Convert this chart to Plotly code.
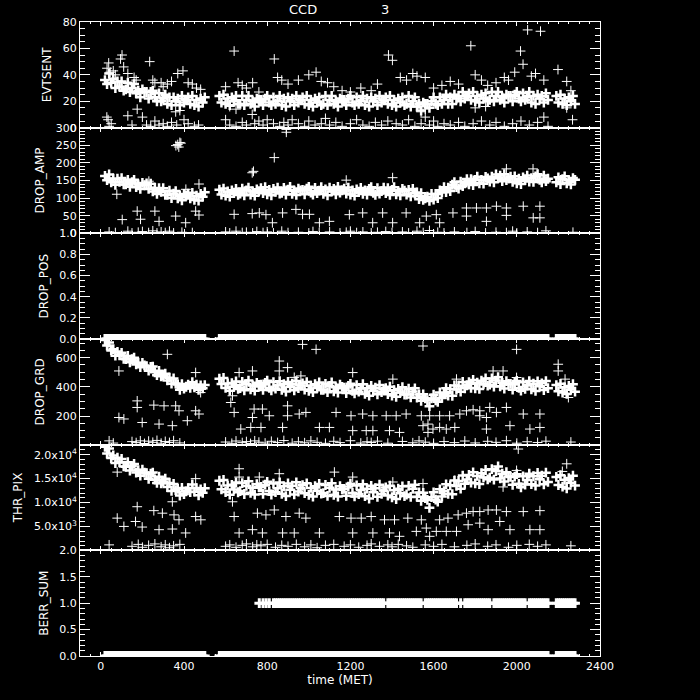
import plotly.graph_objects as go
from plotly.subplots import make_subplots

# ---------------- time grid of the dense band ----------------
t_band = list(range(20, 510, 10)) + list(range(570, 2160, 10)) + list(range(2190, 2290, 10))

# ---------------- EVTSENT ----------------
evt_band = [
    36, 33, 41, 34, 37, 30, 35, 31, 35, 28,
    29, 34, 27, 30, 33, 26, 28, 23, 29, 27,
    27, 22, 27, 28, 23, 20, 26, 20, 22, 25,
    18, 23, 17, 23, 20, 22, 17, 24, 19, 21,
    23, 18, 24, 17, 21, 16, 22, 19, 23,
    24, 19, 25, 18, 22, 17, 23, 20, 24, 18,
    18, 24, 17, 21, 24, 18, 20, 16, 22, 21,
    21, 17, 22, 24, 19, 17, 23, 18, 20, 24,
    17, 22, 16, 23, 20, 22, 17, 24, 19, 21,
    23, 18, 24, 17, 21, 16, 22, 19, 23, 17,
    18, 24, 17, 21, 24, 18, 20, 16, 22, 21,
    21, 17, 22, 24, 19, 17, 23, 18, 20, 24,
    17, 22, 16, 23, 20, 22, 17, 24, 19, 21,
    23, 18, 24, 17, 21, 16, 22, 19, 23, 17,
    18, 24, 16, 20, 23, 16, 18, 13, 19, 18,
    18, 15, 20, 23, 18, 17, 23, 18, 21, 25,
    18, 23, 18, 25, 22, 24, 20, 27, 22, 24,
    26, 21, 27, 20, 24, 19, 25, 22, 26, 20,
    21, 27, 20, 24, 27, 21, 23, 19, 25, 24,
    24, 20, 25, 27, 22, 20, 26, 21, 23, 27,
    19, 24, 18, 25, 22, 24, 19, 26, 21,
    24, 19, 25, 18, 22, 17, 23, 20, 24, 18,
]
evt_out = [
    (30, 45), (38, 49), (45, 42), (60, 43), (70, 40), (95, 52), (102, 55), (110, 46), (130, 41),
    (160, 38), (170, 36), (235, 50), (250, 36), (260, 34), (290, 34), (300, 31), (320, 33),
    (340, 35), (370, 41), (395, 43), (420, 34), (440, 33), (460, 30), (480, 29),
    (600, 31), (641, 58), (660, 34), (680, 32), (700, 30), (730, 34), (760, 27), (834, 52),
    (850, 38), (870, 36), (900, 33), (950, 36), (1000, 40), (1035, 42), (1060, 35), (1090, 34),
    (1120, 31), (1160, 28), (1200, 27), (1250, 30), (1300, 28), (1330, 33), (1383, 55),
    (1402, 51), (1440, 38), (1470, 36), (1500, 41), (1520, 39), (1560, 38), (1600, 30),
    (1640, 32), (1680, 35), (1720, 33), (1779, 62), (1800, 40), (1830, 36), (1860, 32),
    (1900, 34), (1940, 38), (1960, 36), (1990, 42), (2018, 58), (2030, 48), (2052, 74),
    (2070, 39), (2090, 41), (2114, 73), (2130, 36), (2198, 44), (2240, 35), (2260, 28),
    (1540, 12), (1560, 14), (1800, 15), (1850, 16), (620, 16), (650, 14), (2240, 15),
    (29, 8), (35, 6), (40, 1), (50, 3), (130, 9), (150, 2), (175, 14), (200, 8), (220, 2),
    (240, 1), (260, 5), (280, 2), (300, 3), (320, 1), (340, 4), (360, 12), (365, 2), (380, 13),
    (400, 6), (420, 3), (450, 1), (470, 2), (600, 6), (620, 2), (650, 1), (680, 4), (700, 2),
    (728, 10), (740, 3), (760, 5), (780, 2), (800, 6), (830, 3), (860, 1), (880, 4), (900, 2),
    (920, 6), (950, 3), (980, 1), (1000, 5), (1030, 2), (1060, 3), (1080, 7), (1100, 2),
    (1130, 4), (1160, 1), (1200, 3), (1230, 6), (1260, 2), (1290, 1), (1320, 4), (1350, 2),
    (1380, 5), (1420, 3), (1450, 2), (1480, 6), (1510, 1), (1540, 3), (1560, 8), (1580, 2),
    (1600, 5), (1620, 1), (1650, 3), (1680, 2), (1720, 4), (1750, 1), (1790, 3), (1830, 5),
    (1870, 2), (1900, 4), (1940, 1), (1980, 3), (2020, 5), (2060, 2), (2100, 4), (2130, 8),
    (2150, 1), (2268, 6),
]

# ---------------- DROP_AMP ----------------
amp_band = [
    163, 151, 167, 145, 155, 138, 155, 146, 157, 139,
    139, 152, 132, 145, 152, 131, 139, 126, 143, 137,
    142, 126, 141, 119, 129, 112, 128, 118, 128, 109,
    109, 121, 100, 113, 120, 99, 107, 94, 112, 107,
    113, 99, 115, 95, 107, 93, 112, 104, 117,
    124, 110, 127, 107, 119, 104, 122, 114, 126, 109,
    113, 127, 108, 122, 130, 110, 119, 107, 125, 120,
    128, 114, 131, 111, 123, 108, 126, 118, 130, 113,
    115, 129, 110, 124, 132, 112, 121, 109, 127, 122,
    123, 111, 127, 132, 116, 110, 129, 114, 121, 131,
    112, 125, 108, 130, 119, 126, 111, 132, 116, 122,
    127, 113, 130, 110, 122, 107, 125, 117, 129, 112,
    122, 110, 126, 131, 115, 109, 128, 113, 120, 130,
    114, 128, 109, 123, 131, 111, 120, 108, 126, 121,
    110, 123, 105, 126, 113, 116, 97, 114, 95, 99,
    104, 92, 112, 96, 112, 100, 122, 117, 131, 117,
    130, 120, 138, 145, 131, 127, 147, 134, 142, 154,
    139, 154, 137, 152, 161, 142, 152, 141, 160, 156,
    147, 161, 145, 167, 157, 164, 148, 168, 151, 156,
    161, 146, 162, 142, 155, 140, 159, 151, 164, 147,
    157, 146, 162, 168, 152, 145, 164, 148, 155,
    145, 159, 140, 154, 162, 142, 151, 139, 157, 152,
]
amp_out = [
    (361, 249), (370, 252), (380, 258), (385, 256), (375, 245), (728, 172), (734, 176),
    (834, 215), (892, 287), (892, 295), (1403, 158), (1950, 183), (2078, 183), (1180, 151),
    (472, 140), (409, 125), (231, 148), (77, 111),
    (103, 39), (175, 63), (191, 40), (260, 63), (280, 34), (360, 49), (408, 30), (456, 63),
    (472, 52), (641, 54), (728, 56), (762, 58), (794, 53), (825, 30), (874, 58), (938, 68),
    (970, 54), (1003, 54), (1051, 30), (1099, 34), (1195, 53), (1259, 58), (1307, 30),
    (1355, 58), (1403, 30), (1468, 58), (1533, 30), (1565, 49), (1613, 53), (1629, 30),
    (1693, 58), (1758, 72), (1806, 72), (1854, 72), (1902, 77), (1950, 72), (2031, 77),
    (2111, 77), (1758, 49), (1854, 34), (2079, 44), (2111, 44), (1950, 51),
    (40, 4), (70, 2), (130, 6), (150, 1), (180, 3), (200, 5), (230, 2), (250, 7), (270, 1),
    (290, 4), (310, 2), (330, 6), (350, 1), (390, 3), (440, 2), (600, 4), (620, 1), (650, 6),
    (680, 2), (700, 3), (730, 1), (750, 5), (780, 2), (800, 4), (830, 1), (870, 6), (900, 2),
    (950, 3), (1000, 1), (1020, 5), (1050, 2), (1100, 4), (1150, 1), (1180, 3), (1200, 6),
    (1230, 2), (1260, 4), (1300, 1), (1330, 3), (1370, 5), (1400, 2), (1450, 4), (1480, 1),
    (1520, 6), (1550, 2), (1580, 8), (1620, 3), (1650, 1), (1700, 4), (1760, 2), (1800, 5),
    (1850, 1), (1900, 3), (1950, 2), (1980, 6), (2000, 1), (2050, 4), (2100, 2), (2140, 7),
    (2270, 3),
]

# ---------------- DROP_GRD ----------------
grd_band = [
    721, 683, 704, 650, 658, 614, 640, 616, 633, 592,
    590, 612, 568, 590, 600, 554, 566, 535, 564, 547,
    542, 511, 536, 539, 500, 480, 510, 472, 478, 490,
    444, 463, 422, 458, 423, 417, 380, 419, 388, 401,
    416, 393, 432, 396, 416, 380, 410, 390, 412,
    456, 420, 461, 393, 423, 374, 426, 401, 437, 386,
    392, 434, 377, 419, 443, 383, 410, 374, 428, 413,
    415, 379, 427, 442, 394, 376, 433, 388, 409, 439,
    380, 419, 368, 434, 401, 422, 377, 440, 392, 410,
    424, 382, 433, 373, 409, 364, 418, 394, 430, 379,
    379, 421, 364, 406, 430, 370, 397, 361, 415, 400,
    394, 358, 406, 421, 373, 355, 412, 367, 388, 418,
    352, 391, 340, 406, 373, 394, 349, 412, 364, 382,
    392, 350, 401, 341, 377, 332, 386, 362, 398, 347,
    347, 387, 328, 368, 390, 326, 348, 305, 349, 321,
    309, 268, 321, 346, 308, 298, 362, 324, 353, 391,
    340, 385, 339, 410, 382, 408, 367, 434, 390, 411,
    432, 393, 447, 390, 429, 386, 442, 420, 458, 408,
    415, 458, 402, 443, 466, 404, 428, 389, 439, 420,
    420, 381, 427, 441, 393, 374, 431, 387, 409, 440,
    383, 422, 372, 438, 404, 424, 378, 440, 391,
    412, 370, 421, 361, 397, 352, 406, 382, 418, 367,
]
grd_out = [
    (87, 509), (175, 304), (175, 259), (87, 190), (111, 180), (199, 156), (255, 275),
    (304, 270), (280, 145), (320, 623), (360, 270), (376, 236), (416, 168), (344, 134),
    (456, 236), (472, 214), (456, 498), (480, 361), (641, 225), (633, 339), (625, 293),
    (665, 498), (729, 509), (737, 248), (777, 248), (810, 202), (729, 190), (673, 111),
    (721, 122), (770, 122), (858, 577), (858, 509), (898, 532), (898, 270), (898, 202),
    (874, 122), (954, 214), (986, 225), (970, 691), (1035, 657), (962, 475), (930, 465),
    (1051, 122), (1099, 122), (1131, 225), (1549, 680), (1999, 657), (2199, 555), (2199, 509),
    (1211, 498), (1404, 453), (1710, 453), (1886, 509), (1934, 509), (1999, 464), (2232, 453),
    (2248, 327), (1203, 202), (1259, 214), (1308, 202), (1372, 202), (1420, 202), (1468, 214),
    (1541, 202), (1581, 202), (1629, 202), (1677, 202), (1726, 214), (1758, 236), (1790, 243),
    (1822, 236), (1870, 259), (1902, 225), (1950, 259), (2031, 214), (2111, 214), (1822, 202),
    (1854, 190), (1211, 100), (1276, 100), (1308, 100), (1388, 100), (1436, 88), (1549, 134),
    (1573, 145), (1573, 88), (1597, 111), (1629, 122), (1661, 111), (1702, 122), (1854, 111),
    (1967, 134), (2063, 111), (2111, 122),
    (40, 30), (60, 15), (150, 25), (170, 18), (190, 30), (210, 12), (230, 28), (250, 20),
    (270, 33), (290, 14), (310, 26), (330, 19), (350, 31), (380, 16), (600, 22), (630, 13),
    (650, 29), (680, 18), (700, 25), (720, 12), (740, 30), (760, 21), (790, 15), (820, 27),
    (850, 19), (880, 32), (920, 14), (950, 24), (980, 17), (1010, 30), (1040, 20), (1080, 13),
    (1120, 27), (1150, 18), (1200, 31), (1250, 15), (1280, 24), (1300, 19), (1330, 28),
    (1380, 14), (1450, 26), (1500, 17), (1530, 30), (1560, 21), (1600, 13), (1650, 25),
    (1700, 18), (1750, 29), (1800, 16), (1860, 27), (1900, 20), (1950, 31), (2000, 14),
    (2050, 24), (2100, 19), (2140, 28), (2260, 22),
]

# ---------------- THR_PIX ----------------
thr_band = [
    21640, 20220, 21280, 19280, 19840, 18240, 19380, 18440, 19100, 17540,
    17500, 18420, 16700, 17620, 18060, 16260, 16780, 15620, 16860, 16260,
    16140, 14980, 16060, 16260, 14780, 14100, 15420, 14020, 14380, 14980,
    13260, 14100, 12440, 13900, 12620, 12880, 11480, 13060, 11780, 12360,
    13040, 12220, 13780, 12280, 13040, 11540, 12780, 12040, 13000,
    14560, 12780, 14720, 12220, 13560, 11660, 13720, 12760, 14200, 12160,
    12400, 14080, 11800, 13480, 14440, 12040, 13120, 11680, 13840, 13240,
    13260, 11820, 13740, 14340, 12420, 11700, 13980, 12180, 13020, 14220,
    11840, 13400, 11360, 14000, 12680, 13520, 11720, 14240, 12320, 13040,
    13660, 11980, 14020, 11620, 13060, 11260, 13420, 12460, 13900, 11860,
    12000, 13680, 11400, 13080, 14040, 11640, 12720, 11280, 13440, 12840,
    12860, 11420, 13340, 13940, 12020, 11300, 13580, 11780, 12620, 13820,
    11340, 12900, 10860, 13500, 12180, 13020, 11220, 13740, 11820, 12540,
    13160, 11480, 13520, 11120, 12560, 10760, 12920, 11960, 13400, 11360,
    11700, 13480, 11200, 12880, 13740, 11240, 12120, 10380, 12040, 10940,
    10560, 8920, 11140, 12140, 10620, 10200, 12780, 11280, 12420, 13820,
    11840, 13600, 11760, 14600, 13480, 14520, 12920, 15640, 13920, 14840,
    15760, 14180, 16320, 14020, 15560, 13860, 16120, 15260, 16800, 14860,
    15200, 16980, 14800, 16580, 17540, 15040, 16020, 14380, 16340, 15440,
    15360, 13720, 15440, 15940, 13920, 13200, 15480, 13780, 14720, 16020,
    13840, 15500, 13560, 16200, 14880, 15620, 13820, 16240, 14320,
    15360, 13680, 15720, 13320, 14760, 12960, 15120, 14160, 15600, 13560,
]
thr_out = [
    (79, 16360), (175, 9150), (79, 6770), (111, 5040), (167, 6070), (199, 4910), (255, 8330),
    (296, 7800), (352, 7450), (376, 6420), (280, 4360), (344, 4500), (408, 3680), (456, 7100),
    (481, 6420), (456, 15000), (472, 11560), (344, 10180), (633, 10180), (665, 17060),
    (641, 7100), (665, 3680), (729, 4360), (753, 7800), (794, 7450), (834, 8470), (777, 3680),
    (874, 3680), (890, 7100), (954, 7800), (986, 6770), (930, 3680), (1051, 3680), (1147, 7100),
    (1123, 16360), (858, 16030), (762, 15330), (665, 15330), (649, 13970),
    (1203, 6770), (1252, 6770), (1300, 7100), (1364, 6420), (1412, 6420), (1476, 6770),
    (1541, 6420), (1629, 6420), (1669, 6770), (1718, 7450), (1758, 7800), (1790, 8130),
    (1822, 8130), (1862, 8470), (1902, 8470), (1950, 8130), (2031, 8130), (2111, 8330),
    (1211, 3680), (1308, 3680), (1388, 3680), (1436, 2980), (1517, 4010), (1565, 4700),
    (1581, 2980), (1613, 4010), (1661, 4010), (1710, 4010), (1766, 5390), (1822, 5730),
    (1862, 4360), (1918, 6070), (1967, 4360), (2063, 4360), (2111, 4360), (1211, 15330),
    (1404, 14300), (1549, 13970), (1702, 14650), (1934, 13270), (1999, 16710), (2240, 18090),
    (2007, 21170), (2219, 16500),
    (40, 1200), (150, 900), (180, 1300), (200, 700), (230, 1100), (260, 1400), (290, 800),
    (310, 1200), (330, 600), (350, 1000), (380, 1300), (600, 900), (620, 1200), (650, 700),
    (680, 1100), (700, 1400), (730, 800), (750, 1200), (770, 1000), (800, 1300), (840, 700),
    (870, 1100), (900, 900), (940, 1300), (980, 800), (1010, 1200), (1040, 600), (1080, 1100),
    (1120, 1300), (1170, 900), (1200, 1200), (1240, 700), (1280, 1100), (1300, 1400),
    (1340, 900), (1380, 1200), (1400, 800), (1430, 1300), (1470, 1000), (1500, 700),
    (1560, 1200), (1600, 900), (1640, 1300), (1700, 800), (1760, 1100), (1800, 1400),
    (1860, 900), (1900, 1200), (1960, 700), (2000, 1100), (2060, 1300), (2100, 900),
    (2140, 1200), (2260, 1000),
]

# ---------------- DROP_POS / BERR_SUM ----------------
drop_pos_t = t_band
drop_pos_v = [0.0 for _ in drop_pos_t]
berr_zero_t = t_band
berr_zero_v = [0.0 for _ in berr_zero_t]
berr_one_t = [762, 780, 795, 810] + [t for t in t_band if t >= 830 and t not in (1370, 1550, 1720, 1740, 1880, 2050, 2160)]
berr_one_v = [1.0 for _ in berr_one_t]

panel_titles = ["EVTSENT", "DROP_AMP", "DROP_POS", "DROP_GRD", "THR_PIX", "BERR_SUM"]
x_ticks = [0, 400, 800, 1200, 1600, 2000, 2400]

# ---------------- figure ----------------
fig = make_subplots(rows=6, cols=1, shared_xaxes=True, vertical_spacing=0)

mk_thin = dict(symbol="cross-thin", size=7, color="white", line=dict(color="white", width=1))
mk_band = dict(symbol="cross-thin", size=7, color="white", line=dict(color="white", width=2.5))
mk_flat = dict(symbol="cross-thin", size=7, color="white", line=dict(color="white", width=3))


def add(row, xs, ys, mk):
    fig.add_trace(go.Scatter(x=xs, y=ys, mode="markers", marker=mk, showlegend=False,
                             hoverinfo="skip"), row=row, col=1)


add(1, t_band, evt_band, mk_band)
add(1, [p[0] for p in evt_out], [p[1] for p in evt_out], mk_thin)
add(2, t_band, amp_band, mk_band)
add(2, [p[0] for p in amp_out], [p[1] for p in amp_out], mk_thin)
add(3, drop_pos_t, drop_pos_v, mk_flat)
add(4, t_band, grd_band, mk_band)
add(4, [p[0] for p in grd_out], [p[1] for p in grd_out], mk_thin)
add(5, t_band, thr_band, mk_band)
add(5, [p[0] for p in thr_out], [p[1] for p in thr_out], mk_thin)
add(6, berr_zero_t, berr_zero_v, mk_flat)
add(6, berr_one_t, berr_one_v, mk_flat)

font_family = "DejaVu Sans"
axfont = dict(family=font_family, size=11, color="white")

common_y = dict(showgrid=False, zeroline=False, showline=True, linecolor="white", linewidth=1,
                mirror="allticks", ticks="inside", ticklen=10, tickwidth=1, tickcolor="white",
                tickfont=axfont, automargin=False,
                title_font=dict(family=font_family, size=12, color="white"), title_standoff=8)

y_specs = [
    dict(range=[0, 80], tickmode="linear", tick0=0, dtick=20, minor=dict(dtick=5)),
    dict(range=[0, 300], tickmode="linear", tick0=0, dtick=50, minor=dict(dtick=10)),
    dict(range=[0, 1], tickmode="linear", tick0=0, dtick=0.2, tickformat=".1f", minor=dict(dtick=0.05)),
    dict(range=[4, 728], tickmode="array", tickvals=[200, 400, 600],
         minor=dict(tickmode="linear", tick0=0, dtick=50)),
    dict(range=[60, 22080], tickmode="array", tickvals=[5000, 10000, 15000, 20000],
         ticktext=["5.0x10<sup>3</sup>", "1.0x10<sup>4</sup>", "1.5x10<sup>4</sup>", "2.0x10<sup>4</sup>"],
         minor=dict(tickmode="linear", tick0=0, dtick=1000)),
    dict(range=[0, 2], tickmode="linear", tick0=0, dtick=0.5, tickformat=".1f", minor=dict(dtick=0.1)),
]

for i in range(6):
    spec = dict(common_y)
    spec.update(y_specs[i])
    spec["minor"] = dict(spec["minor"], ticklen=5, tickcolor="white", tickwidth=1, ticks="inside",
                         showgrid=False)
    spec["title_text"] = panel_titles[i]
    fig.update_yaxes(spec, row=i + 1, col=1)

for i in range(6):
    fig.update_xaxes(dict(range=[-100, 2400], tickmode="array", tickvals=x_ticks, showgrid=False,
                          zeroline=False, showline=True, linecolor="white", linewidth=1,
                          mirror="allticks", ticks="inside", ticklen=4, tickwidth=1, tickcolor="white",
                          tickfont=axfont, automargin=False,
                          minor=dict(tickmode="linear", tick0=0, dtick=50, ticklen=2, ticks="inside",
                                     tickcolor="white", tickwidth=1, showgrid=False)),
                     row=i + 1, col=1)

fig.update_xaxes(title_text="time (MET)", title_font=dict(family=font_family, size=12, color="white"),
                 title_standoff=2, showticklabels=True, row=6, col=1)

fig.update_layout(
    width=700, height=700,
    margin=dict(l=80, r=100, t=22, b=44),
    paper_bgcolor="black", plot_bgcolor="black",
    font=dict(family=font_family, color="white", size=11),
    showlegend=False,
)
title_y = 1 + 12 / 634
fig.add_annotation(text="CCD", x=(303 - 80) / 520, xref="paper", y=title_y, yref="paper",
                   yanchor="middle", showarrow=False, font=dict(family=font_family, size=13, color="white"))
fig.add_annotation(text="3", x=(385 - 80) / 520, xref="paper", y=title_y, yref="paper",
                   yanchor="middle", showarrow=False, font=dict(family=font_family, size=13, color="white"))

# remove the default page margin so the 700x700 figure fills the window exactly
fig.write_html("out.html", config={"displayModeBar": False},
               post_script="document.body.style.margin='0';document.body.style.background='black';")
